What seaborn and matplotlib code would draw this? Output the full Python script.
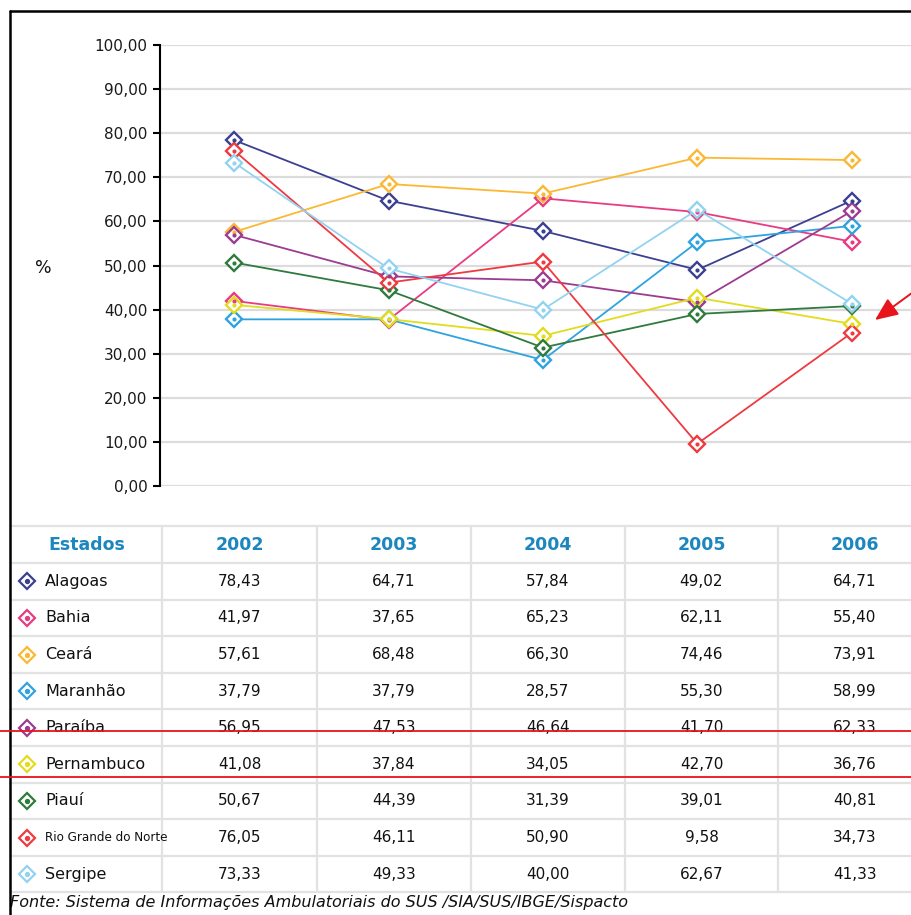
import matplotlib
matplotlib.use("Agg")
import matplotlib.pyplot as plt
import seaborn as sns
import pandas as pd
import numpy as np
from matplotlib.ticker import FuncFormatter

# ---------------- data ----------------
years = ["2002", "2003", "2004", "2005", "2006"]
states = ["Alagoas", "Bahia", "Ceará", "Maranhão", "Paraíba",
          "Pernambuco", "Piauí", "Rio Grande do Norte", "Sergipe"]
alagoas = [78.43, 64.71, 57.84, 49.02, 64.71]
bahia = [41.97, 37.65, 65.23, 62.11, 55.40]
ceara = [57.61, 68.48, 66.30, 74.46, 73.91]
maranhao = [37.79, 37.79, 28.57, 55.30, 58.99]
paraiba = [56.95, 47.53, 46.64, 41.70, 62.33]
pernambuco = [41.08, 37.84, 34.05, 42.70, 36.76]
piaui = [50.67, 44.39, 31.39, 39.01, 40.81]
rn = [76.05, 46.11, 50.90, 9.58, 34.73]
sergipe = [73.33, 49.33, 40.00, 62.67, 41.33]
series = [alagoas, bahia, ceara, maranhao, paraiba, pernambuco, piaui, rn, sergipe]
colors = ["#3b4090", "#e83c82", "#fbb833", "#2fa3df", "#9c3c90",
          "#e2dc1e", "#2f7a3e", "#ee3a40", "#92d3f0"]
yticks = [0, 10, 20, 30, 40, 50, 60, 70, 80, 90, 100]

W, H = 912, 915
fig = plt.figure(figsize=(W / 100, H / 100), dpi=100)
sns.set_style("white")

def br(v, d=2):
    return f"{v:.{d}f}".replace(".", ",")

# ---------------- chart ----------------
ax = fig.add_axes([160 / W, (H - 486) / H, 772 / W, 441 / H])
xs = np.arange(len(years))
for vals, c in zip(series, colors):
    df = pd.DataFrame({"x": xs, "y": vals})
    sns.lineplot(data=df, x="x", y="y", ax=ax, color=c, linewidth=1.3,
                 marker="D", markersize=8.5, markerfacecolor="white",
                 markeredgecolor=c, markeredgewidth=1.7, zorder=3)
    sns.scatterplot(data=df, x="x", y="y", ax=ax, color=c, s=9,
                    linewidth=0, zorder=4)
ax.set_xlim(-0.48, 4.52)
ax.set_ylim(0, 100)
ax.set_yticks(yticks)
ax.yaxis.set_major_formatter(FuncFormatter(lambda v, p: br(v)))
ax.set_xticks([])
ax.set_xlabel("")
ax.set_ylabel("")
ax.grid(axis="y", color="#dcdcdc", linewidth=1.6)
ax.set_axisbelow(True)
for s in ["top", "right", "bottom"]:
    ax.spines[s].set_visible(False)
ax.spines["left"].set_color("black")
ax.spines["left"].set_linewidth(1.5)
ax.tick_params(axis="y", length=5, width=1.5, color="black",
               labelsize=11, labelcolor="#1a1a1a", pad=4, left=True)

# ---------------- overlay (table, frame, notes) ----------------
ov = fig.add_axes([0, 0, 1, 1], zorder=5)
ov.set_xlim(0, W)
ov.set_ylim(H, 0)
ov.axis("off")
ov.patch.set_alpha(0)

grid_c = "#e2e2e2"
col_edges = [10, 162, 317, 471, 625, 778, 932]
top_y, head_bot, row_h = 526, 563, 36.6
nrows = len(states)
row_lines = [top_y, head_bot] + [head_bot + row_h * (i + 1) for i in range(nrows)]
for y in row_lines:
    ov.plot([10, W], [y, y], color=grid_c, lw=1.6, zorder=1)
for x in col_edges[1:-1]:
    ov.plot([x, x], [top_y, row_lines[-1]], color=grid_c, lw=1.6, zorder=1)

head_c = "#1c86bf"
ov.text(87, (top_y + head_bot) / 2 + 1, "Estados", color=head_c, fontsize=12.5,
        fontweight="bold", ha="center", va="center")
centers = [(col_edges[i + 1] + col_edges[i + 2]) / 2 for i in range(len(years))]
centers[-1] = 855
for cx, yr in zip(centers, years):
    ov.text(cx, (top_y + head_bot) / 2 + 1, yr, color=head_c, fontsize=12.5,
            fontweight="bold", ha="center", va="center")

for i, (st, vals, c) in enumerate(zip(states, series, colors)):
    cy = head_bot + row_h * i + row_h / 2
    ov.plot([27], [cy], marker="D", markersize=8.5, markerfacecolor="white",
            markeredgecolor=c, markeredgewidth=1.6, zorder=3)
    ov.plot([27], [cy], marker="o", markersize=2.8, color=c, zorder=4)
    if st == "Rio Grande do Norte":
        ov.text(45, cy, st, fontsize=9.5, ha="left", va="center", color="#111111",
                family=["Liberation Sans Narrow", "DejaVu Sans"],
                fontstretch="condensed")
    else:
        ov.text(45, cy, st, fontsize=11.5, ha="left", va="center", color="#111111")
    for cx, v in zip(centers, vals):
        ov.text(cx, cy, br(v), fontsize=11, ha="center", va="center",
                color="#111111")

# y label
ov.text(43, 268, "%", fontsize=12.5, ha="center", va="center", color="#111111")

# source
ov.text(10, 895, "Fonte: Sistema de Informações Ambulatoriais do SUS /SIA/SUS/IBGE/Sispacto",
        fontsize=11.5, style="italic", ha="left", va="top", color="#111111")

# black frame
ov.plot([10, 10], [11, H], color="black", lw=1.8, zorder=6)
ov.plot([10, W], [11, 11], color="black", lw=1.8, zorder=6)

# red annotation lines and arrow
ov.plot([0, W], [731, 731], color="#e8141b", lw=1.3, zorder=7)
ov.plot([0, W], [777, 777], color="#e8141b", lw=1.3, zorder=7)
ov.annotate("", xy=(875, 320), xytext=(916, 290),
            arrowprops=dict(arrowstyle="-|>,head_length=1.4,head_width=0.6",
                            color="#e8141b", lw=1.4, shrinkA=0, shrinkB=0),
            zorder=7, annotation_clip=False)

fig.savefig("out.png", dpi=100)
